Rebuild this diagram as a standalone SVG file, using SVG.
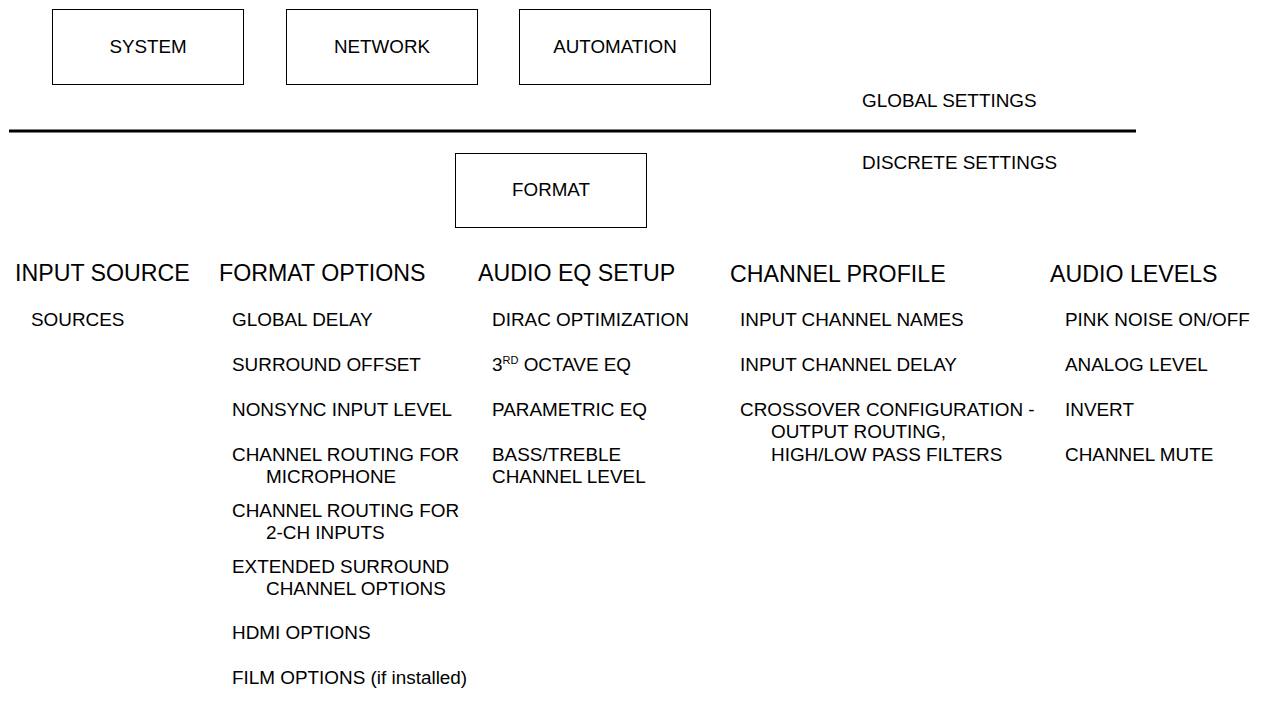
<svg xmlns="http://www.w3.org/2000/svg" width="1266" height="713" viewBox="0 0 1266 713">
<style>
text{font-family:"Liberation Sans",Arial,sans-serif;fill:#000}
.box{fill:#fff;stroke:#000;stroke-width:1}
.bl{font-size:18.8px;text-anchor:middle}
.h{font-size:23.2px}
.i{font-size:18.9px}
</style>
<rect width="1266" height="713" fill="#fff"/>
<g id="system"><rect class="box" x="52.5" y="9.5" width="191" height="75"/><text class="bl" x="148" y="53">SYSTEM</text></g>
<g id="network"><rect class="box" x="286.5" y="9.5" width="191" height="75"/><text class="bl" x="382" y="53">NETWORK</text></g>
<g id="automation"><rect class="box" x="519.5" y="9.5" width="191" height="75"/><text class="bl" x="615" y="53">AUTOMATION</text></g>
<g id="divider"><line x1="9" y1="131" x2="1136" y2="131" stroke="#000" stroke-width="3"/></g>
<text class="i" x="862" y="107">GLOBAL SETTINGS</text>
<text class="i" x="862" y="169">DISCRETE SETTINGS</text>
<g id="format"><rect class="box" x="455.5" y="153.5" width="191" height="74"/><text class="bl" x="551" y="196">FORMAT</text></g>
<g id="connectors"></g>
<g id="col-input-source">
<text class="h" x="15" y="281">INPUT SOURCE</text>
<text class="i" x="31" y="326">SOURCES</text>
</g>
<g id="col-format-options">
<text class="h" x="219" y="281">FORMAT OPTIONS</text>
<text class="i" x="232" y="326">GLOBAL DELAY</text>
<text class="i" x="232" y="371">SURROUND OFFSET</text>
<text class="i" x="232" y="416">NONSYNC INPUT LEVEL</text>
<text class="i" x="232" y="461">CHANNEL ROUTING FOR</text>
<text class="i" x="266" y="483">MICROPHONE</text>
<text class="i" x="232" y="517">CHANNEL ROUTING FOR</text>
<text class="i" x="266" y="539">2-CH INPUTS</text>
<text class="i" x="232" y="573">EXTENDED SURROUND</text>
<text class="i" x="266" y="595">CHANNEL OPTIONS</text>
<text class="i" x="232" y="639">HDMI OPTIONS</text>
<text class="i" x="232" y="684">FILM OPTIONS (if installed)</text>
</g>
<g id="col-audio-eq">
<text class="h" x="478" y="281">AUDIO EQ SETUP</text>
<text class="i" x="492" y="326">DIRAC OPTIMIZATION</text>
<text class="i" x="492" y="371">3<tspan font-size="11" dy="-7">RD</tspan><tspan dy="7"> OCTAVE EQ</tspan></text>
<text class="i" x="492" y="416">PARAMETRIC EQ</text>
<text class="i" x="492" y="461">BASS/TREBLE</text>
<text class="i" x="492" y="483">CHANNEL LEVEL</text>
</g>
<g id="col-channel-profile">
<text class="h" x="730" y="282">CHANNEL PROFILE</text>
<text class="i" x="740" y="326">INPUT CHANNEL NAMES</text>
<text class="i" x="740" y="371">INPUT CHANNEL DELAY</text>
<text class="i" x="740" y="416">CROSSOVER CONFIGURATION -</text>
<text class="i" x="771" y="438">OUTPUT ROUTING,</text>
<text class="i" x="771" y="461">HIGH/LOW PASS FILTERS</text>
</g>
<g id="col-audio-levels">
<text class="h" x="1050" y="282">AUDIO LEVELS</text>
<text class="i" x="1065" y="326">PINK NOISE ON/OFF</text>
<text class="i" x="1065" y="371">ANALOG LEVEL</text>
<text class="i" x="1065" y="416">INVERT</text>
<text class="i" x="1065" y="461">CHANNEL MUTE</text>
</g>
</svg>
